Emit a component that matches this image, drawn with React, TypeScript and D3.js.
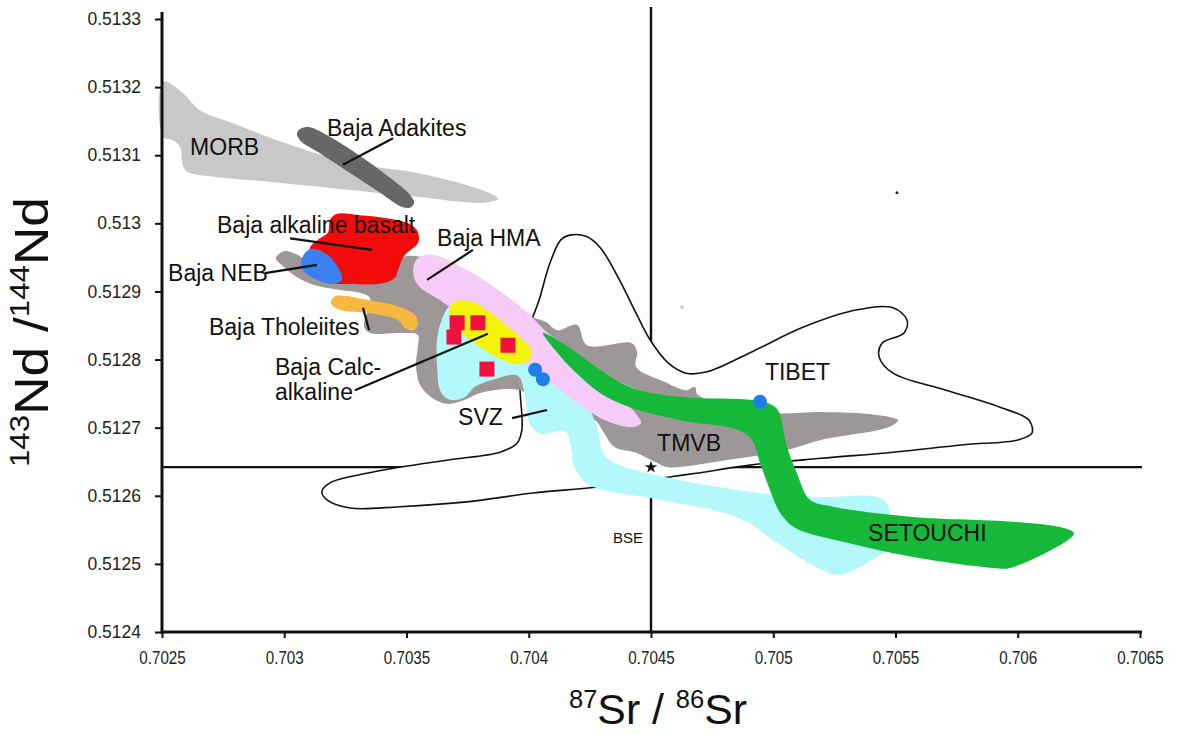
import { useRef, useEffect } from "react";
import * as d3 from "d3";

type Pt = [number, number];

// axis ticks
const srTicks = [0.7025, 0.703, 0.7035, 0.704, 0.7045, 0.705, 0.7055, 0.706, 0.7065];
const ndTicks = [0.5124, 0.5125, 0.5126, 0.5127, 0.5128, 0.5129, 0.513, 0.5131, 0.5132, 0.5133];

// bulk silicate earth reference
const bse: Pt = [0.7045, 0.512642];

// field outlines, [87Sr/86Sr, 143Nd/144Nd]
const tibet: Pt[] = [
  [0.703972, 0.512697], [0.703964, 0.51277], [0.703989, 0.512821], [0.704013, 0.512858],
  [0.704042, 0.512887], [0.704087, 0.512942], [0.704132, 0.512976], [0.704173, 0.512983],
  [0.704234, 0.512981], [0.704291, 0.512965], [0.704365, 0.512921], [0.704439, 0.512868],
  [0.704496, 0.512829], [0.70457, 0.512795], [0.704643, 0.51278], [0.704729, 0.512782],
  [0.704905, 0.51281], [0.705126, 0.512848], [0.705343, 0.512873], [0.70549, 0.512876],
  [0.705547, 0.512858], [0.705535, 0.512839], [0.705445, 0.512824], [0.705433, 0.512804],
  [0.70549, 0.51278], [0.705707, 0.512755], [0.705927, 0.51273], [0.706046, 0.512711],
  [0.706058, 0.512692], [0.706001, 0.512682], [0.70578, 0.512675], [0.70549, 0.512664],
  [0.705195, 0.512655], [0.704905, 0.512645], [0.704684, 0.512633], [0.704582, 0.512628],
  [0.704279, 0.512613], [0.704017, 0.512604], [0.703747, 0.512591], [0.703473, 0.512584],
  [0.703269, 0.512582], [0.703175, 0.512594], [0.703154, 0.512606], [0.703187, 0.512619],
  [0.703338, 0.512633], [0.703473, 0.512642], [0.703678, 0.512653], [0.703882, 0.512664],
  [0.703952, 0.512677],
];

const morb: Pt[] = [
  [0.702504, 0.513208], [0.702586, 0.513191], [0.702655, 0.513166], [0.70279, 0.513147],
  [0.702995, 0.513119], [0.703269, 0.513089], [0.703543, 0.513074], [0.703747, 0.513056],
  [0.703854, 0.513042], [0.703874, 0.513036], [0.703813, 0.51303], [0.703543, 0.513039],
  [0.703269, 0.513049], [0.702995, 0.513059], [0.702725, 0.513068], [0.702606, 0.513075],
  [0.702586, 0.513084], [0.702574, 0.513112], [0.702545, 0.513122], [0.702504, 0.513127],
];

const adakites: Pt[] = [
  [0.703052, 0.513133], [0.703073, 0.51314], [0.703105, 0.513141], [0.703187, 0.513127],
  [0.70331, 0.513099], [0.703433, 0.513067], [0.703514, 0.513042], [0.703531, 0.51303],
  [0.703514, 0.513023], [0.703482, 0.513024], [0.703392, 0.513045], [0.703269, 0.513074],
  [0.703146, 0.513103], [0.703064, 0.513122],
];

const tmvb: Pt[] = [
  [0.702966, 0.512949], [0.702999, 0.512959], [0.703048, 0.512955], [0.703105, 0.512943],
  [0.703228, 0.512943], [0.703445, 0.512946], [0.703502, 0.512952], [0.703555, 0.512951],
  [0.703637, 0.51294], [0.70376, 0.512923], [0.703882, 0.512896], [0.704005, 0.512864],
  [0.704071, 0.512855], [0.704116, 0.512843], [0.704197, 0.512851], [0.704238, 0.512821],
  [0.704422, 0.512824], [0.704443, 0.512811], [0.704439, 0.512789], [0.704557, 0.512767],
  [0.704643, 0.512755], [0.70468, 0.51276], [0.704692, 0.512748], [0.704991, 0.512722],
  [0.705195, 0.512723], [0.705416, 0.512719], [0.70551, 0.512711], [0.705473, 0.512701],
  [0.705195, 0.512682], [0.705052, 0.512667], [0.704819, 0.512653], [0.70457, 0.512642],
  [0.704525, 0.512648], [0.704439, 0.512663], [0.704349, 0.512672], [0.704308, 0.512692],
  [0.704271, 0.512711], [0.704169, 0.512719], [0.704046, 0.512733], [0.703964, 0.512755],
  [0.703801, 0.512751], [0.703739, 0.512741], [0.703666, 0.512735], [0.703604, 0.512744],
  [0.703555, 0.512763], [0.703539, 0.512792], [0.703547, 0.512821], [0.703547, 0.512836],
  [0.703473, 0.512839], [0.703351, 0.512839], [0.703326, 0.512849], [0.703343, 0.512873],
  [0.703351, 0.51289], [0.70331, 0.512898], [0.703228, 0.512902], [0.703126, 0.512909],
  [0.703052, 0.512921], [0.702999, 0.512936],
];

const svz: Pt[] = [
  [0.703641, 0.512855], [0.703678, 0.512879], [0.70376, 0.512886], [0.703903, 0.512861],
  [0.704066, 0.512824], [0.70423, 0.512792], [0.704353, 0.51277], [0.704516, 0.512745],
  [0.704651, 0.512727], [0.704651, 0.512714], [0.704496, 0.512723], [0.704332, 0.512736],
  [0.704259, 0.512729], [0.704283, 0.512697], [0.7043, 0.512667], [0.704341, 0.51265],
  [0.704578, 0.512626], [0.704946, 0.512604], [0.705171, 0.512598], [0.705428, 0.512598],
  [0.705469, 0.512586], [0.705465, 0.512523], [0.705404, 0.512506], [0.705273, 0.512484],
  [0.705199, 0.512491], [0.705015, 0.512531], [0.704864, 0.512567], [0.704537, 0.512594],
  [0.704279, 0.512611], [0.704222, 0.512623], [0.704185, 0.512645], [0.704169, 0.512677],
  [0.704148, 0.512695], [0.704046, 0.512691], [0.704005, 0.512705], [0.703985, 0.512744],
  [0.703956, 0.512776], [0.70385, 0.51277], [0.70378, 0.51276], [0.703735, 0.512744],
  [0.703678, 0.512741], [0.703641, 0.512752], [0.703625, 0.512788], [0.703625, 0.512829],
];

const hma: Pt[] = [
  [0.703527, 0.512931], [0.703547, 0.512949], [0.703608, 0.512954], [0.70376, 0.512929],
  [0.703903, 0.512895], [0.704005, 0.512865], [0.704066, 0.512843], [0.70421, 0.512799],
  [0.704353, 0.512752], [0.704439, 0.51272], [0.704459, 0.512707], [0.704426, 0.512701],
  [0.704312, 0.512711], [0.704156, 0.512748], [0.704017, 0.512788], [0.703882, 0.512821],
  [0.70376, 0.512855], [0.703637, 0.512887], [0.703547, 0.512909],
];

const calcAlkaline: Pt[] = [
  [0.703674, 0.51287], [0.703686, 0.512882], [0.703723, 0.512887], [0.703784, 0.512883],
  [0.703882, 0.512858], [0.703964, 0.512833], [0.704009, 0.512814], [0.704001, 0.512799],
  [0.703948, 0.512793], [0.703862, 0.512805], [0.70376, 0.512829], [0.703698, 0.512849],
];

const setouchi: Pt[] = [
  [0.704058, 0.512839], [0.704128, 0.512826], [0.704197, 0.51281], [0.704291, 0.512785],
  [0.704426, 0.512758], [0.704631, 0.512745], [0.704905, 0.512741], [0.704979, 0.512736],
  [0.705019, 0.512726], [0.705056, 0.512672], [0.705097, 0.512633], [0.70515, 0.512594],
  [0.705244, 0.512584], [0.705572, 0.512569], [0.705981, 0.512562], [0.706173, 0.512554],
  [0.70623, 0.512545], [0.706201, 0.512534], [0.705968, 0.512494], [0.705899, 0.512494],
  [0.705572, 0.51251], [0.705302, 0.512531], [0.705089, 0.512553], [0.705028, 0.512575],
  [0.704987, 0.512608], [0.704946, 0.512648], [0.704913, 0.512682], [0.704852, 0.512697],
  [0.704619, 0.512711], [0.704414, 0.51273], [0.704291, 0.512751], [0.704189, 0.512782],
  [0.704107, 0.512814],
];

const alkBasalt: Pt[] = [
  [0.703187, 0.513005], [0.703216, 0.513014], [0.70331, 0.513012], [0.703412, 0.513008],
  [0.703514, 0.512999], [0.703547, 0.512987], [0.703547, 0.512971], [0.70349, 0.512952],
  [0.703465, 0.512931], [0.703453, 0.51292], [0.703404, 0.512912], [0.703269, 0.512911],
  [0.703187, 0.512914], [0.703114, 0.512943], [0.703105, 0.512964], [0.703138, 0.512976],
  [0.703179, 0.512987],
];

const neb: Pt[] = [
  [0.703073, 0.512949], [0.703105, 0.512962], [0.703158, 0.512958], [0.703208, 0.512942],
  [0.703236, 0.512917], [0.703199, 0.512911], [0.703134, 0.512917], [0.703077, 0.512931],
];

const tholeiites: Pt[] = [
  [0.703208, 0.512893], [0.703351, 0.512887], [0.703473, 0.512877], [0.703535, 0.512865],
  [0.703547, 0.512851], [0.703527, 0.512843], [0.703494, 0.512846], [0.703465, 0.512858],
  [0.703351, 0.512868], [0.703228, 0.512873], [0.703191, 0.512883],
];

// samples
const redSamples: Pt[] = [
  [0.703707, 0.512854], [0.703792, 0.512854], [0.703694, 0.512833],
  [0.703915, 0.512821], [0.703829, 0.512786],
];
const blueSamples: Pt[] = [[0.704026, 0.512785], [0.704058, 0.512771], [0.704946, 0.512738]];

// labels and leaders
const labels: { text: string; at: Pt; size?: number }[] = [
  { text: "MORB", at: [0.702615, 0.5131] },
  { text: "Baja Adakites", at: [0.703175, 0.513128] },
  { text: "Baja alkaline basalt", at: [0.702725, 0.512986] },
  { text: "Baja NEB", at: [0.702525, 0.512915] },
  { text: "Baja HMA", at: [0.703625, 0.512967] },
  { text: "Baja Tholeiites", at: [0.702692, 0.512836] },
  { text: "Baja Calc-", at: [0.702962, 0.512777] },
  { text: "alkaline", at: [0.702962, 0.51274] },
  { text: "SVZ", at: [0.703711, 0.512704] },
  { text: "TMVB", at: [0.704525, 0.512666] },
  { text: "TIBET", at: [0.704966, 0.51277] },
  { text: "SETOUCHI", at: [0.705388, 0.512534] },
  { text: "BSE", at: [0.704345, 0.512531], size: 15 },
];

const leaders: [Pt, Pt][] = [
  [[0.703445, 0.513125], [0.70324, 0.513086]],
  [[0.703024, 0.512978], [0.703359, 0.512961]],
  [[0.702921, 0.512927], [0.703134, 0.512939]],
  [[0.703772, 0.512961], [0.703584, 0.512917]],
  [[0.703322, 0.512876], [0.703347, 0.512843]],
  [[0.703289, 0.512755], [0.703833, 0.512838]],
  [[0.703932, 0.512714], [0.704075, 0.512726]],
];

const W = 1193;
const H = 734;
const FONT = "'Liberation Sans', Arial, sans-serif";

const App = () => {
  const ref = useRef<SVGSVGElement>(null);

  useEffect(() => {
    const svg = d3.select(ref.current);
    svg.selectAll("*").remove();

    const x = d3.scaleLinear().domain([0.7025, 0.7065]).range([162, 1140]);
    const y = d3.scaleLinear().domain([0.5124, 0.5133]).range([632, 19]);

    const shape = d3
      .line<Pt>()
      .x((d) => x(d[0]))
      .y((d) => y(d[1]))
      .curve(d3.curveCatmullRomClosed.alpha(0.5));

    // BSE reference lines
    svg.append("line")
      .attr("x1", x(bse[0])).attr("x2", x(bse[0]))
      .attr("y1", y(0.5133) - 12).attr("y2", y(0.5124))
      .attr("stroke", "#111").attr("stroke-width", 2.4);
    svg.append("line")
      .attr("x1", x(0.7025)).attr("x2", x(0.7065) + 2)
      .attr("y1", y(bse[1])).attr("y2", y(bse[1]))
      .attr("stroke", "#111").attr("stroke-width", 2.4);

    svg.append("path").attr("d", shape(tibet))
      .attr("fill", "#fff").attr("stroke", "#111").attr("stroke-width", 1.6);

    const fields: { pts: Pt[]; fill: string }[] = [
      { pts: morb, fill: "#c8c8c8" },
      { pts: adakites, fill: "#676767" },
      { pts: tmvb, fill: "#9d9797" },
      { pts: svz, fill: "#b3f8fb" },
      { pts: hma, fill: "#f7cbf7" },
      { pts: calcAlkaline, fill: "#f3f30c" },
      { pts: setouchi, fill: "#16b83a" },
      { pts: alkBasalt, fill: "#f10b0b" },
      { pts: neb, fill: "#3b80f0" },
      { pts: tholeiites, fill: "#f8b73e" },
    ];
    svg.append("g").selectAll("path").data(fields).enter().append("path")
      .attr("d", (d) => shape(d.pts))
      .attr("fill", (d) => d.fill);

    svg.append("g").selectAll("rect").data(redSamples).enter().append("rect")
      .attr("x", (d) => x(d[0]) - 7.5).attr("y", (d) => y(d[1]) - 7.5)
      .attr("width", 15).attr("height", 15).attr("fill", "#f0113e");

    svg.append("g").selectAll("circle").data(blueSamples).enter().append("circle")
      .attr("cx", (d) => x(d[0])).attr("cy", (d) => y(d[1])).attr("r", 7)
      .attr("fill", "#1f7fe9");

    // stray marks
    svg.append("circle").attr("cx", x(0.705506)).attr("cy", y(0.513045)).attr("r", 1.5).attr("fill", "#222");
    svg.append("path")
      .attr("d", `M${x(0.704627) - 2},${y(0.512877)}h4M${x(0.704627)},${y(0.512877) - 2}v4`)
      .attr("stroke", "#8aa8e0").attr("stroke-width", 0.8);

    svg.append("g").selectAll("line").data(leaders).enter().append("line")
      .attr("x1", (d) => x(d[0][0])).attr("y1", (d) => y(d[0][1]))
      .attr("x2", (d) => x(d[1][0])).attr("y2", (d) => y(d[1][1]))
      .attr("stroke", "#111").attr("stroke-width", 2.2);

    svg.append("g").selectAll("text").data(labels).enter().append("text")
      .attr("x", (d) => x(d.at[0])).attr("y", (d) => y(d.at[1]))
      .attr("font-family", FONT).attr("font-size", (d) => d.size ?? 23)
      .attr("fill", "#111").text((d) => d.text);

    svg.append("path")
      .attr("d", d3.symbol().type(d3.symbolStar).size(48)())
      .attr("transform", `translate(${x(bse[0])},${y(bse[1])})`)
      .attr("fill", "#111");

    // axes
    const fmt = (v: number) => String(+v.toFixed(4));
    const xAxis = svg.append("g").attr("transform", `translate(0,${y(0.5124)})`)
      .call(d3.axisBottom(x).tickValues(srTicks).tickSize(6).tickPadding(13).tickFormat((v) => fmt(+v)));
    xAxis.select(".domain").remove();
    xAxis.selectAll(".tick line").attr("stroke", "#111").attr("stroke-width", 2);
    xAxis.selectAll(".tick text")
      .attr("font-family", FONT).attr("font-size", 19).attr("fill", "#222")
      .attr("transform", "scale(0.8,1)");

    const yAxis = svg.append("g").attr("transform", `translate(${x(0.7025)},0)`)
      .call(d3.axisLeft(y).tickValues(ndTicks).tickSize(7).tickPadding(14).tickFormat((v) => fmt(+v)));
    yAxis.select(".domain").remove();
    yAxis.selectAll(".tick line").attr("stroke", "#111").attr("stroke-width", 2);
    yAxis.selectAll(".tick text")
      .attr("font-family", FONT).attr("font-size", 17.5).attr("fill", "#222");

    svg.append("line")
      .attr("x1", x(0.7025)).attr("x2", x(0.7065) + 2)
      .attr("y1", y(0.5124)).attr("y2", y(0.5124))
      .attr("stroke", "#111").attr("stroke-width", 3);
    svg.append("line")
      .attr("x1", x(0.7025)).attr("x2", x(0.7025))
      .attr("y1", y(0.5133) - 7).attr("y2", y(0.5124) + 1.5)
      .attr("stroke", "#111").attr("stroke-width", 3);

    // axis titles
    const xt = svg.append("text")
      .attr("x", 658).attr("y", 724).attr("text-anchor", "middle")
      .attr("font-family", FONT).attr("font-size", 42).attr("fill", "#111")
      .attr("textLength", 178).attr("lengthAdjust", "spacingAndGlyphs");
    xt.append("tspan").attr("font-size", 25).attr("dy", -16).text("87");
    xt.append("tspan").attr("dy", 16).text("Sr");
    xt.append("tspan").text(" / ");
    xt.append("tspan").attr("font-size", 25).attr("dy", -16).text("86");
    xt.append("tspan").attr("dy", 16).text("Sr");

    const yt = svg.append("text")
      .attr("transform", "translate(48,332) rotate(-90)")
      .attr("text-anchor", "middle")
      .attr("font-family", FONT).attr("font-size", 48).attr("fill", "#111")
      .attr("textLength", 270).attr("lengthAdjust", "spacingAndGlyphs");
    yt.append("tspan").attr("font-size", 28).attr("dy", -19).text("143");
    yt.append("tspan").attr("dy", 19).text("Nd");
    yt.append("tspan").text(" /");
    yt.append("tspan").attr("font-size", 28).attr("dy", -19).text("144");
    yt.append("tspan").attr("dy", 19).text("Nd");
  }, []);

  return (
    <svg
      ref={ref}
      width={W}
      height={H}
      style={{ position: "absolute", left: 0, top: 0, background: "#fff" }}
    />
  );
};

export default App;
